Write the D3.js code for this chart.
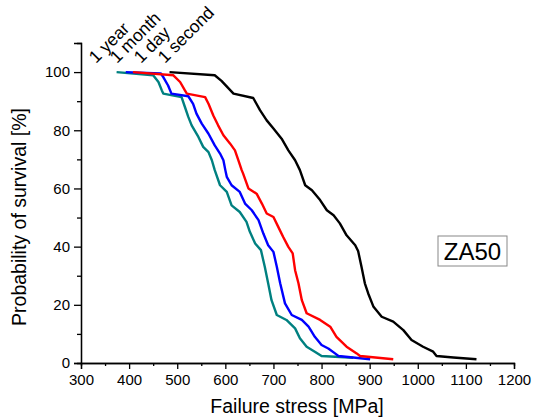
<!DOCTYPE html>
<html>
<head>
<meta charset="utf-8">
<script src="https://cdn.jsdelivr.net/npm/d3@7"></script>
<style>
  body { margin: 0; background: #fff; }
  svg text { font-family: Arial, "Liberation Sans", sans-serif; fill: #000; }
</style>
</head>
<body>
<svg id="chart" width="537" height="419"></svg>
<script>
// failure stress [MPa], probability of survival [%]
const oneSecond = [[484,100],[578,98.9],[592,97],[617,92.6],[658,91.1],[672,86.9],[686,83.4],[700,80.6],[717,77.1],[731,73.1],[745,69.7],[755,66.3],[766,61.1],[780,59.4],[797,56],[811,52.5],[825,50.8],[838,48],[852,43.9],[870,40.5],[876,38.5],[883,33.1],[890,27.4],[897,23.9],[908,19.3],[925,15.9],[949,14.2],[970,11.3],[987,7.9],[1011,5.6],[1032,3.9],[1039,2.4],[1074,1.9],[1122,1.3]]
const oneDay = [[408,100],[492,98.9],[506,96.6],[516,93.7],[520,92.6],[558,91.4],[565,89.1],[575,85.1],[585,81.7],[596,78.3],[610,75.4],[620,73.1],[627,69.7],[634,66.3],[637,65.1],[648,60],[665,58.2],[676,54.8],[686,51.4],[700,50.2],[710,46.8],[720,43.4],[731,39.9],[740,37.7],[745,31.9],[752,27.4],[759,21.6],[769,17.1],[797,14.8],[818,12.5],[831,9],[852,5.6],[873,3.3],[880,2.4],[949,1.3]]
const oneMonth = [[393,100],[466,99.5],[471,98.3],[481,95.4],[488,92.6],[523,91.7],[533,89.1],[540,85.7],[551,82.3],[565,78.8],[578,74.8],[589,72],[596,69.7],[600,66.3],[603,64],[613,61.1],[630,58.8],[641,54.8],[655,52.5],[669,49.1],[679,44.5],[689,40.5],[700,38.2],[707,33.1],[714,27.4],[724,20.5],[738,16.5],[759,14.8],[773,12.5],[786,9],[800,6.2],[814,5],[828,3.3],[835,2.4],[901,1.3]]
const oneYear = [[374,100],[450,98.9],[461,96.6],[468,93.7],[471,92.6],[509,91.4],[516,88],[523,84.6],[530,81.7],[544,77.7],[554,74.3],[565,72.5],[572,69.7],[578,66.3],[589,61.1],[603,58.8],[613,54.2],[630,51.9],[644,48.5],[651,45.1],[662,41.1],[674,38.8],[682,33.1],[689,27.4],[696,21.6],[707,16.5],[727,14.8],[745,11.9],[755,8.5],[769,5.6],[786,3.9],[800,2.4],[866,1.8]]

const seriesNames = ['1 year', '1 month', '1 day', '1 second']
const seriesColors = ['#008080', '#0000ff', '#ff0000', '#000000']
const seriesData = [oneYear, oneMonth, oneDay, oneSecond]

const xTicks = [300,400,500,600,700,800,900,1000,1100,1200]
const yTicks = [0,20,40,60,80,100]

const svg = d3.select('#chart')

const x = d3.scaleLinear().domain([300, 1200]).range([81, 514])
const y = d3.scaleLinear().domain([0, 110]).range([363, 43])

// minor ticks first, then the major axis
svg.append('g')
    .attr('transform', 'translate(0,363)')
    .call(d3.axisBottom(x).tickValues(d3.range(350, 1200, 100)).tickSize(3).tickFormat(''))
svg.append('g')
    .attr('transform', 'translate(81,0)')
    .call(d3.axisLeft(y).tickValues(d3.range(10, 110, 20)).tickSize(4).tickFormat(''))

const xAxis = svg.append('g')
    .attr('transform', 'translate(0,363)')
    .call(d3.axisBottom(x).tickValues(xTicks).tickSize(6).tickPadding(5).tickFormat(d3.format('d')))
const yAxis = svg.append('g')
    .attr('transform', 'translate(81,0)')
    .call(d3.axisLeft(y).tickValues(yTicks).tickSize(7).tickPadding(4))

svg.selectAll('.domain, .tick line').attr('stroke', '#000').attr('stroke-width', 1.3)
svg.selectAll('.tick text').style('font-size', '15px').attr('fill', '#000')

svg.append('text')
    .attr('x', 297).attr('y', 413)
    .attr('text-anchor', 'middle')
    .style('font-size', '19.5px')
    .text('Failure stress [MPa]')

svg.append('text')
    .attr('transform', 'translate(26,217) rotate(-90)')
    .attr('text-anchor', 'middle')
    .style('font-size', '19.5px')
    .text('Probability of survival [%]')

const line = d3.line().x(d => x(d[0])).y(d => y(d[1]))

svg.selectAll('.curve')
    .data(seriesData)
    .join('path')
    .attr('class', 'curve')
    .attr('fill', 'none')
    .attr('stroke', (d, i) => seriesColors[i])
    .attr('stroke-width', 2.4)
    .attr('stroke-linejoin', 'round')
    .attr('d', line)

// rotated curve labels above the start of each curve
const labelX = [96, 117, 141, 165]
svg.selectAll('.curve-label')
    .data(seriesNames)
    .join('text')
    .attr('class', 'curve-label')
    .attr('transform', (d, i) => `translate(${labelX[i]},64) rotate(-45)`)
    .style('font-size', '17.5px')
    .text(d => d)

// sample label
svg.append('rect')
    .attr('x', 438).attr('y', 236)
    .attr('width', 69).attr('height', 30)
    .attr('fill', '#fff')
    .attr('stroke', '#888')
    .attr('stroke-width', 1)
svg.append('text')
    .attr('x', 472.5).attr('y', 260)
    .attr('text-anchor', 'middle')
    .style('font-size', '24px')
    .text('ZA50')
</script>
</body>
</html>
